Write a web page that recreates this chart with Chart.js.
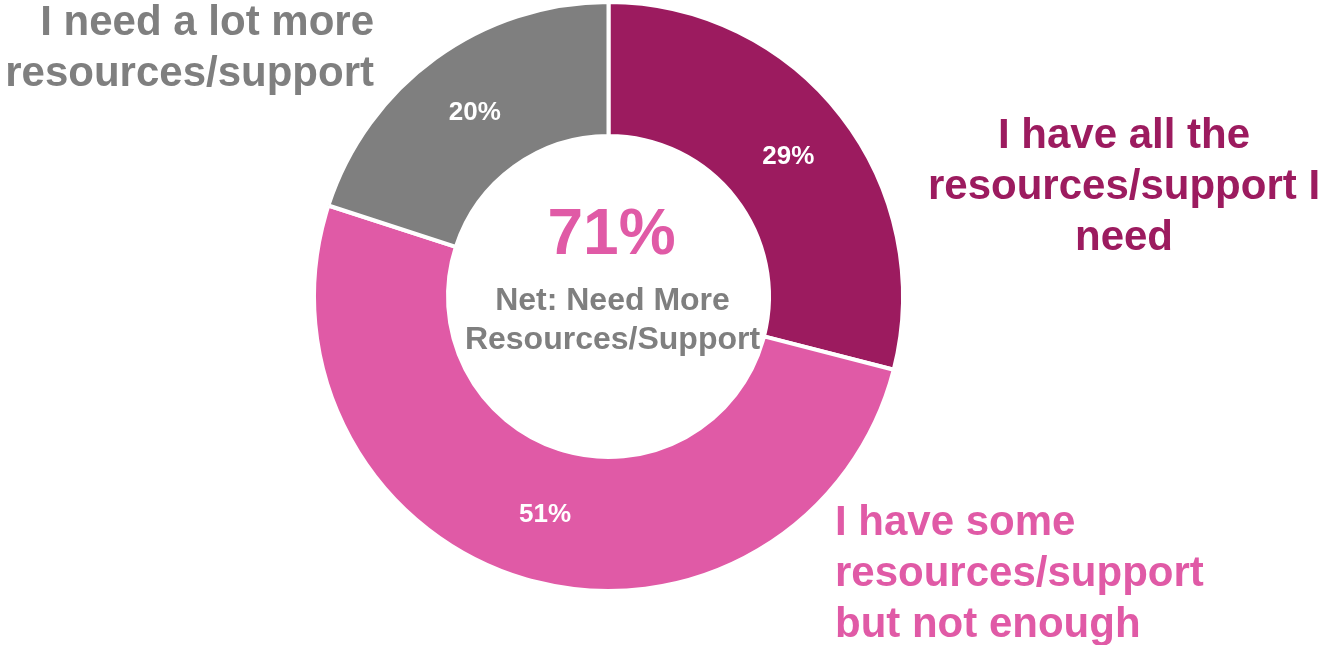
<!DOCTYPE html>
<html>
<head>
<meta charset="utf-8">
<title>Resources / Support</title>
<script src="https://cdn.jsdelivr.net/npm/chart.js@4"></script>
<style>
    html, body { margin: 0; padding: 0; background: #ffffff; }
    #chartWrap { position: relative; width: 1324px; height: 645px; }
</style>
</head>
<body>
<div id="chartWrap">
    <canvas id="supportChart" width="1324" height="645"></canvas>
</div>
<script>
// Survey answers, clockwise from 12 o'clock
const categories = [
    'I have all the resources/support I need',
    'I have some resources/support but not enough',
    'I need a lot more resources/support'
];
const shares = [29, 51, 20]; // percent of respondents
const sliceColors = ['#9c1b5f', '#e05aa6', '#7f7f7f'];

// Outside label text, split into lines
const labelLines = [
    ['I have all the', 'resources/support I', 'need'],
    ['I have some', 'resources/support', 'but not enough'],
    ['I need a lot more', 'resources/support']
];

// Net = everyone who needs more (some + a lot more)
const netValue = shares[1] + shares[2];
const netCaption = ['Net: Need More', 'Resources/Support'];

const FONT = '"Liberation Sans", Arial, sans-serif';

const labelsPlugin = {
    id: 'donutLabels',
    afterDraw(chart) {
        const ctx = chart.ctx;
        const meta = chart.getDatasetMeta(0);
        const cx = meta.data[0].x;
        const cy = meta.data[0].y;

        ctx.save();

        // percentages inside each slice
        ctx.fillStyle = '#ffffff';
        ctx.font = 'bold 26px ' + FONT;
        ctx.textAlign = 'center';
        ctx.textBaseline = 'middle';
        meta.data.forEach((arc, i) => {
            const p = arc.getCenterPoint();
            ctx.fillText(shares[i] + '%', p.x, p.y);
        });

        // big net number in the hole
        ctx.textBaseline = 'alphabetic';
        ctx.fillStyle = sliceColors[1];
        ctx.font = 'bold 64px ' + FONT;
        ctx.fillText(netValue + '%', cx + 3, cy - 43);

        ctx.fillStyle = '#7f7f7f';
        ctx.font = 'bold 32px ' + FONT;
        ctx.fillText(netCaption[0], cx + 4, cy + 13);
        ctx.fillText(netCaption[1], cx + 4, cy + 52);

        // category labels around the ring
        ctx.font = 'bold 42px ' + FONT;
        const lineGap = 51;

        ctx.fillStyle = sliceColors[0];
        ctx.textAlign = 'center';
        labelLines[0].forEach((t, j) => ctx.fillText(t, 1124, 148 + j * lineGap));

        ctx.fillStyle = sliceColors[1];
        ctx.textAlign = 'left';
        labelLines[1].forEach((t, j) => ctx.fillText(t, 835, 535 + j * lineGap));

        ctx.fillStyle = sliceColors[2];
        ctx.textAlign = 'right';
        labelLines[2].forEach((t, j) => ctx.fillText(t, 374, 35 + j * lineGap));

        ctx.restore();
    }
};

const ctx = document.getElementById('supportChart').getContext('2d');
new Chart(ctx, {
    type: 'doughnut',
    data: {
        labels: categories,
        datasets: [{
            data: shares,
            backgroundColor: sliceColors,
            borderColor: '#ffffff',
            borderWidth: 4
        }]
    },
    options: {
        responsive: false,
        animation: false,
        cutout: '54.5%',
        layout: {
            padding: { left: 0, right: 107, top: 0, bottom: 52 }
        },
        plugins: {
            legend: { display: false },
            tooltip: { enabled: false }
        }
    },
    plugins: [labelsPlugin]
});
</script>
</body>
</html>
